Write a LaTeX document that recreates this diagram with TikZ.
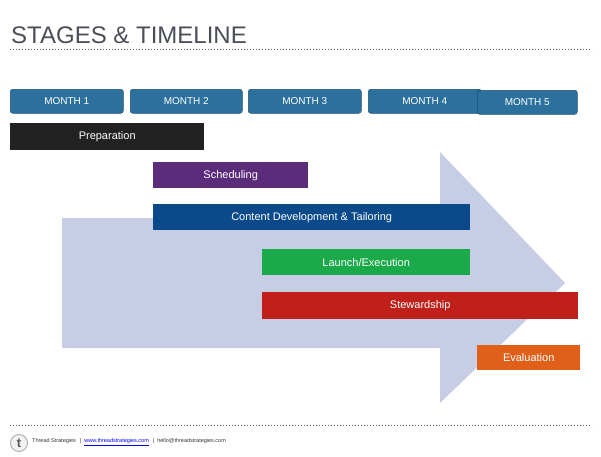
\documentclass[tikz,border=0pt]{standalone}
\usepackage{fontspec}
\setmainfont{Liberation Sans}
\definecolor{mon}{HTML}{2C719E}
\definecolor{arr}{HTML}{C7CDE4}
\definecolor{ttl}{HTML}{4A4E57}
\tikzset{month/.style={fill=mon,rounded corners=2.5pt,draw=mon!70!black,line width=0.5pt,text=white,font=\fontsize{10}{12}\selectfont,inner sep=0pt,anchor=north west},
bar/.style={text=white,font=\fontsize{11}{13}\selectfont,inner sep=0pt,anchor=north west},
dots/.style={dotted,line width=1pt,gray!70!black}}
\begin{document}
\begin{tikzpicture}[x=1pt,y=-1pt]
\useasboundingbox (0,0) rectangle (601,456);
\node[anchor=base west,text=ttl,font=\fontsize{24}{28}\selectfont,inner sep=0pt] (title) at (11,43) {STAGES \& TIMELINE};
\draw[dots] (10,49) -- (592,49);
\fill[arr] (62,218) -- (440,218) -- (440,152) -- (565,283) -- (440,403) -- (440,348) -- (62,348) -- cycle;
\node[month,minimum width=113pt,minimum height=24pt] (m1) at (10,89) {MONTH 1};
\node[month,minimum width=112pt,minimum height=24pt] (m2) at (130,89) {MONTH 2};
\node[month,minimum width=113pt,minimum height=24pt] (m3) at (248,89) {MONTH 3};
\node[month,minimum width=113pt,minimum height=24pt] (m4) at (368,89) {MONTH 4};
\node[month,minimum width=100pt,minimum height=24pt] (m5) at (477,90) {MONTH 5};
\node[bar,fill={rgb,255:red,34;green,34;blue,34},minimum width=194pt,minimum height=27pt] (b1) at (10,123) {Preparation};
\node[bar,fill={rgb,255:red,91;green,44;blue,122},minimum width=155pt,minimum height=26pt] (b2) at (153,162) {Scheduling};
\node[bar,fill={rgb,255:red,11;green,74;blue,138},minimum width=317pt,minimum height=26pt] (b3) at (153,204) {Content Development \& Tailoring};
\node[bar,fill={rgb,255:red,26;green,170;blue,74},minimum width=208pt,minimum height=26pt] (b4) at (262,249) {Launch/Execution};
\node[bar,fill={rgb,255:red,192;green,32;blue,26},minimum width=316pt,minimum height=27pt] (b5) at (262,292) {Stewardship};
\node[bar,fill={rgb,255:red,224;green,96;blue,26},minimum width=103pt,minimum height=25pt] (b6) at (477,345) {Evaluation};
\draw[dots] (10,425) -- (592,425);
\node[circle,draw=gray!60,fill=gray!10,line width=1pt,minimum size=17pt,inner sep=0pt,text=gray!70!black,font=\bfseries\fontsize{13}{13}\selectfont] (logo) at (19,443) {t};
\node[anchor=west,inner sep=0pt,text=gray!40!black,font=\fontsize{5.5}{7}\selectfont] (foot) at (32,442) {Thread Strategies \enspace|\enspace \textcolor{blue}{\underline{www.threadstrategies.com}} \enspace|\enspace hello@threadstrategies.com};
\end{tikzpicture}
\end{document}
